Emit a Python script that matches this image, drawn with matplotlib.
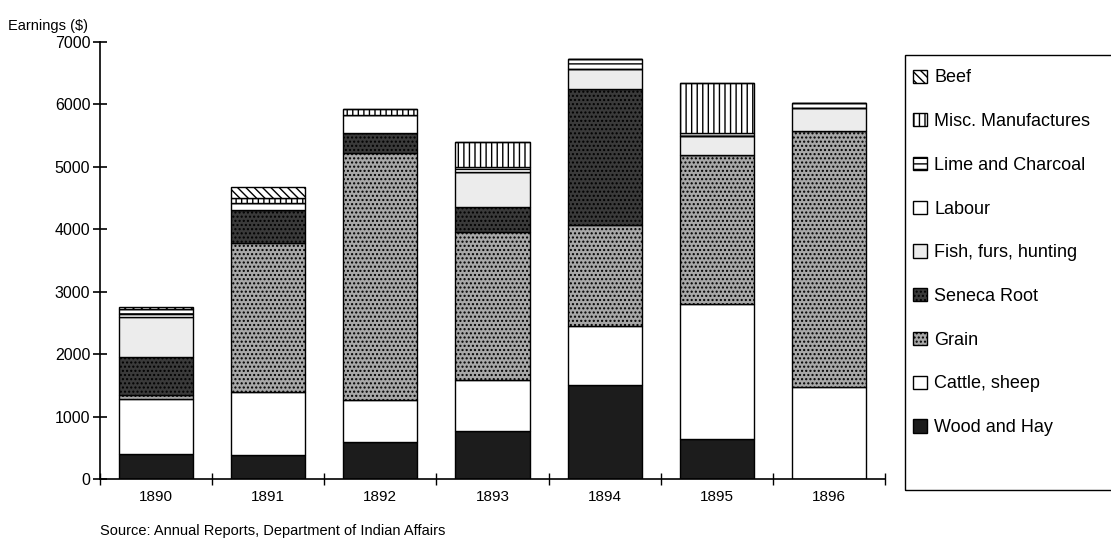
import matplotlib
matplotlib.use("Agg")
import matplotlib.pyplot as plt
from matplotlib.patches import Rectangle
import numpy as np

plt.rcParams["font.family"] = ["Liberation Sans", "DejaVu Sans"]
plt.rcParams["hatch.linewidth"] = 1.0

years = ["1890", "1891", "1892", "1893", "1894", "1895", "1896"]

# earnings by source, bottom of the stack first
wood_hay = [400, 390, 590, 770, 1500, 640, 0]
cattle_sheep = [880, 1000, 675, 820, 950, 2160, 1470]
grain = [60, 2390, 3960, 2370, 1620, 2390, 4110]
seneca_root = [610, 530, 320, 400, 2180, 0, 0]
fish_furs = [650, 0, 0, 560, 320, 300, 370]
labour = [40, 110, 290, 0, 0, 0, 0]
lime_charcoal = [80, 0, 0, 80, 160, 60, 80]
misc_manuf = [0, 80, 95, 400, 0, 800, 0]
beef = [40, 180, 0, 0, 0, 0, 0]

series = [
    ("Wood and Hay", wood_hay, "#1c1c1c", ""),
    ("Cattle, sheep", cattle_sheep, "white", ""),
    ("Grain", grain, "#a8a8a8", "...."),
    ("Seneca Root", seneca_root, "#3a3a3a", "...."),
    ("Fish, furs, hunting", fish_furs, "#ececec", ""),
    ("Labour", labour, "white", ""),
    ("Lime and Charcoal", lime_charcoal, "white", "---"),
    ("Misc. Manufactures", misc_manuf, "white", "|||"),
    ("Beef", beef, "white", "\\\\\\\\"),
]

fig = plt.figure(figsize=(11.11, 5.51), dpi=100)
ax = fig.add_axes([0.09, 0.1307, 0.7066, 0.7931])

x = np.arange(len(years))
bottom = np.zeros(len(years))
handles = []
for name, vals, color, hatch in series:
    vals = np.array(vals, dtype=float)
    bars = ax.bar(x, vals, width=0.66, bottom=bottom, color=color,
                  edgecolor="black", linewidth=1.0, hatch=hatch, label=name)
    handles.append(bars)
    bottom += vals

ax.set_xlim(-0.5, len(years) - 0.5)
ax.set_ylim(0, 7000)
ax.set_yticks(range(0, 7001, 1000))
ax.set_yticklabels([str(v) for v in range(0, 7001, 1000)], fontsize=11.5)

# ticks sit on the category boundaries, labels in between
ax.set_xticks(np.arange(-0.5, len(years), 1.0))
ax.set_xticklabels([])
ax.set_xticks(x, minor=True)
ax.set_xticklabels(years, minor=True, fontsize=11)
ax.tick_params(axis="x", which="minor", length=0, pad=8)
ax.tick_params(axis="x", which="major", direction="inout", length=8, width=1)
ax.tick_params(axis="y", direction="inout", length=10, width=1.2, pad=2)

for side in ("top", "right"):
    ax.spines[side].set_visible(False)
ax.spines["left"].set_linewidth(1.2)
ax.spines["bottom"].set_linewidth(1.2)

fig.text(0.007, 0.953, "Earnings ($)", fontsize=10.5, ha="left", va="center")
fig.text(0.09, 0.036, "Source: Annual Reports, Department of Indian Affairs",
         fontsize=10.5, ha="left", va="center")

# legend box is drawn separately so it can run taller than the entries
fig.patches.append(Rectangle((0.8146, 0.111), 0.19, 0.789,
                             transform=fig.transFigure, fill=False,
                             edgecolor="black", linewidth=1.0))
fig.legend(handles[::-1], [s[0] for s in series][::-1],
           loc="upper left", bbox_to_anchor=(0.822, 0.874),
           frameon=False, fontsize=13, labelspacing=1.48,
           handlelength=0.75, handleheight=0.75, handletextpad=0.4,
           borderpad=0.0, borderaxespad=0.0)

fig.savefig("out.png", dpi=100)
plt.close(fig)
